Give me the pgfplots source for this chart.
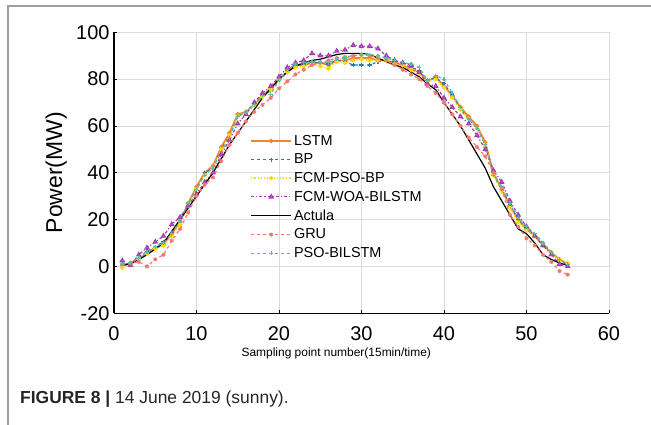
\documentclass[border=0pt]{standalone}
\usepackage{pgfplots}
\pgfplotsset{compat=1.18}
\usepackage{pgfplotstable}
\usepackage{fontspec}
\setmainfont{Liberation Sans}

\definecolor{clstm}{RGB}{240,135,35}
\definecolor{cbp}{RGB}{46,117,182}
\definecolor{cfpb}{RGB}{255,215,10}
\definecolor{cwoa}{RGB}{163,60,179}
\definecolor{cgru}{RGB}{244,120,105}
\definecolor{cpso}{RGB}{92,184,162}

% x  LSTM  BP  FCM-PSO-BP  FCM-WOA-BILSTM  Actula  GRU  PSO-BILSTM
\pgfplotstableread{
x  lstm bp   fpb  woa  act  gru  pso
1  0.5  1    -0.5 2.5  0.5  1    1
2  1.5  1.5  1    0.5  1    1.5  1.5
3  3    3.5  3    5    3    2    3.5
4  6    6.5  5.5  8    5    0    6
5  8    8.5  7.5  10.5 7.5  3    8.5
6  9.5  10.5 9    13   10   5    10
7  14   14.5 13   18   15   11   14
8  19   19.5 18   21   20   16   19.5
9  27   27   26   26   25   23   27
10 34   33   33   31   30   30   33
11 40   40   39   36   35   35   39
12 43   42   42   40   40   38   42
13 51   50   50   48   46   45   49
14 57   56   56   54   52   52   55
15 65   64   64   61   57   57   64
16 66   66   66   65   62   62   66
17 69   69.5 69   70   67   66   69
18 73   73   72.5 74   72   69   73
19 76   75   75.5 77   76   72   73.5
20 80   80   79.5 81   80   76   79.5
21 83   83.5 83   85   83   79   84
22 86   86   85   87   85.5 82   86.5
23 86   86.5 85.5 88   87   84   87
24 87   87   86.5 91   88   86   87.5
25 87   87   85.5 90   88.5 87   87.5
26 86   86.5 84.5 90   89.5 88   87
27 88   88   87.5 92   90.5 89   88.5
28 88   87.5 87   92.5 91   89.5 89
29 89   86   88   94.5 91   90   90
30 89   86   88.5 94   91   90.5 90.5
31 89   86   88   94   90.5 90   90.5
32 88   87.5 88   93   89   89   90
33 88   88   88   90   87.5 88   89
34 87   87   86.5 88   86   86   88
35 86   86.5 86   87   85   84   87
36 84   85   84   86   83   82   86.5
37 83   83.5 82.5 83   81   80   85
38 79   79.5 79   78   78   77   79.5
39 81   80.5 80   77   75.5 74   81.5
40 77   78   76.5 72   70   70   80
41 73   73.5 72   68   65   65   74
42 68   67   67   64   60   60   68
43 64   63   63   61   54   55   63
44 60   59   59   56   48   51   59
45 53   52   52   50   42   47   52
46 40   39   39   41   34   40   39
47 33   33   32   36   28   33   34
48 26   26.5 25   28   22   22   27
49 20   20   19   22   16   17   21
50 16   16.5 15.5 17   14   12   17
51 13   14   13   13   10   9    14
52 9    10   9    9    5    5    10
53 6    6    5.5  5    3    2    6
54 3    2.5  3    1    1.5  -2   3
55 1    1    1.5  0    0.5  -3.5 1
}\datatable

\begin{document}
\begin{tikzpicture}
\useasboundingbox (0bp,0bp) rectangle (651bp,425bp);
\draw[gray!75, line width=1.3bp] (8bp,0bp) -- (8bp,419bp) -- (651bp,419bp);
\node[anchor=base west, inner sep=0pt, font=\fontsize{17.5}{20}\selectfont, text=black!85]
  at (20bp,22bp) {\textbf{FIGURE 8 |} 14 June 2019 (sunny).};

\begin{axis}[
    at={(114bp,111.7bp)}, anchor=south west,
    scale only axis,
    width=495bp, height=281bp,
    xmin=0, xmax=60, ymin=-20, ymax=100,
    xtick={0,10,...,60}, ytick={-20,0,...,100},
    axis lines*=left,
    axis line style={-, black, line width=1.1bp},
    tick align=inside,
    major tick length=3bp,
    tick style={black, line width=0.9bp},
    grid=major,
    grid style={gray!28, line width=0.9bp},
    /pgf/number format/assume math mode=true,
    ticklabel style={font=\fontsize{20}{23}\selectfont},
    xticklabel style={yshift=-10bp},
    yticklabel style={xshift=-1bp},
    xlabel={Sampling point number(15min/time)},
    xlabel style={at={(axis description cs:0.449,-0.141)}, anchor=center,
        font=\fontsize{12}{14}\selectfont},
    ylabel={Power(MW)},
    ylabel style={at={(axis description cs:-0.117,0.5)}, anchor=center, rotate=0,
        font=\fontsize{23}{26}\selectfont},
    legend style={at={(axis cs:16.5,57)}, anchor=north west, draw=none, fill=none,
        inner sep=0pt, row sep=3.1bp,
        font=\fontsize{14.5}{16}\selectfont},
    legend cell align=left,
    legend image code/.code={
        \draw[mark repeat=2, mark phase=2, #1] plot coordinates {(0bp,0bp) (20bp,0bp) (40bp,0bp)};
    },
    every axis plot/.append style={line width=1.2bp},
]
\addplot[clstm, solid, line width=1.7bp, mark=o, mark size=1.8bp, mark options={solid, fill=clstm!40, line width=1bp}]
    table[x=x, y=lstm] {\datatable};
\addplot[cbp, dashed, mark=+, mark size=2bp, mark options={solid}]
    table[x=x, y=bp] {\datatable};
\addplot[cfpb, dotted, line width=1.5bp, mark=*, mark size=1.4bp, mark options={solid}]
    table[x=x, y=fpb] {\datatable};
\addplot[cwoa, dashdotted, mark=triangle*, mark size=2.2bp, mark options={solid, fill=cwoa!60}]
    table[x=x, y=woa] {\datatable};
\addplot[black, solid, line width=1.2bp]
    table[x=x, y=act] {\datatable};
\addplot[cgru, dashed, mark=asterisk, mark size=2bp, mark options={solid}]
    table[x=x, y=gru] {\datatable};
\addplot[cpso, dashed, mark=+, mark size=2bp, mark options={solid}]
    table[x=x, y=pso] {\datatable};
\legend{LSTM, BP, FCM-PSO-BP, FCM-WOA-BILSTM, Actula, GRU, PSO-BILSTM}
\end{axis}
\end{tikzpicture}
\end{document}
